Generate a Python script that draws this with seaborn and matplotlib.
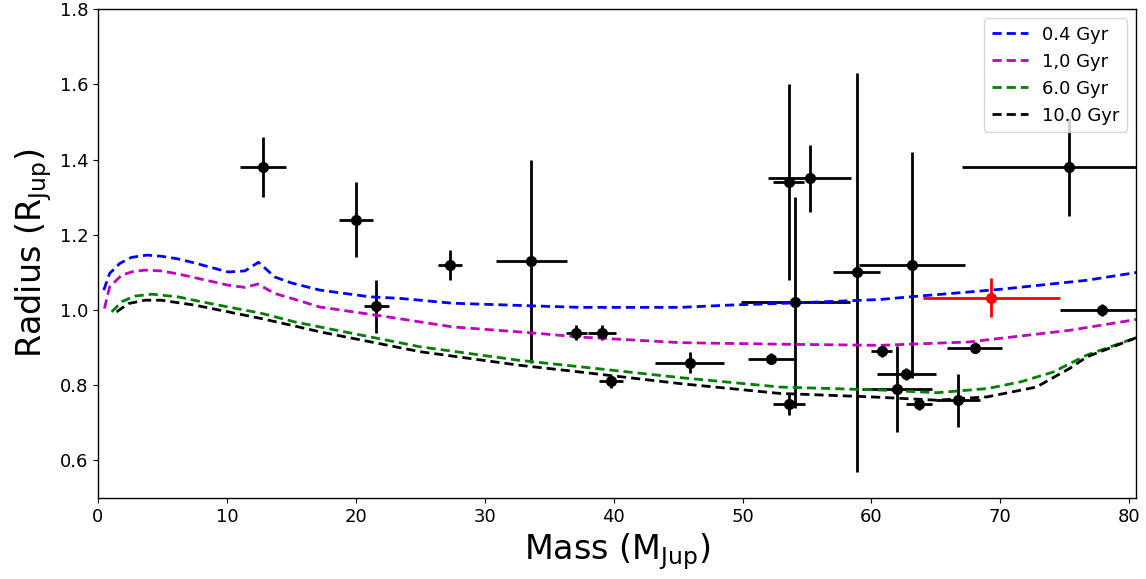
import numpy as np
import pandas as pd
import matplotlib
matplotlib.use("Agg")
import matplotlib.pyplot as plt
import seaborn as sns

# ---- isochrone curves (mass in M_Jup, radius in R_Jup) ----
m_04 = [0.45, 0.9, 1.7, 2.6, 3.8, 4.9, 6.2, 7.5, 8.8, 10.1, 11.4, 12.45, 13.0, 13.7, 15.0,
        17.2, 21.1, 23.4, 27.5, 33.7, 37.4, 45.2, 49.0, 55.0, 60.7, 63.0, 67.6, 70.0, 76.7, 80.6]
r_04 = [1.053, 1.097, 1.124, 1.140, 1.146, 1.143, 1.136, 1.125, 1.113, 1.101, 1.104, 1.127, 1.110,
        1.088, 1.072, 1.053, 1.035, 1.031, 1.018, 1.011, 1.007, 1.007, 1.013, 1.020, 1.028, 1.035,
        1.048, 1.055, 1.079, 1.100]

m_10 = [0.5, 0.9, 1.84, 2.7, 3.65, 4.9, 6.2, 7.5, 8.8, 10.1, 11.4, 12.4, 13.7, 15.3, 17.2,
        22.4, 27.5, 33.7, 37.4, 45.2, 52.9, 60.7, 67.6, 75.4, 80.6]
r_10 = [1.004, 1.061, 1.093, 1.102, 1.106, 1.104, 1.096, 1.086, 1.076, 1.066, 1.060, 1.069, 1.044,
        1.028, 1.008, 0.982, 0.955, 0.939, 0.928, 0.913, 0.909, 0.906, 0.915, 0.946, 0.975]

m_60 = [1.06, 1.84, 2.87, 4.2, 6.2, 8.0, 10.1, 12.7, 15.3, 17.2, 25.0, 32.7, 37.4, 45.2, 52.9,
        60.7, 65.1, 69.0, 71.6, 74.1, 76.7, 80.6]
r_60 = [0.995, 1.022, 1.037, 1.042, 1.035, 1.022, 1.008, 0.991, 0.968, 0.955, 0.902, 0.866, 0.849,
        0.820, 0.795, 0.787, 0.780, 0.791, 0.809, 0.835, 0.880, 0.927]

m_100 = [1.45, 2.35, 3.65, 4.9, 7.5, 10.1, 12.7, 15.3, 17.2, 25.0, 32.7, 37.4, 45.2, 52.9, 59.9,
         65.1, 69.0, 72.8, 75.4, 76.7, 80.6]
r_100 = [0.995, 1.017, 1.026, 1.026, 1.013, 0.995, 0.977, 0.957, 0.942, 0.889, 0.853, 0.835, 0.804,
         0.778, 0.769, 0.760, 0.769, 0.795, 0.845, 0.875, 0.927]

curve_labels = ["0.4 Gyr", "1,0 Gyr", "6.0 Gyr", "10.0 Gyr"]
curve_colors = ["#0000ff", "#bf00bf", "#008000", "#000000"]

# ---- measured brown dwarfs ----
bd_mass = [12.8, 20.0, 21.6, 27.3, 33.6, 37.1, 39.1, 39.8, 45.9, 52.2, 53.6, 53.6, 55.2, 54.1,
           58.85, 63.15, 62.7, 62.0, 60.8, 63.7, 66.7, 68.0, 75.3, 77.9]
bd_mass_err = [1.75, 1.3, 1.0, 0.9, 2.75, 0.8, 1.1, 0.9, 2.7, 1.8, 1.25, 1.2, 3.2, 4.25,
               1.8, 4.1, 2.3, 2.7, 0.8, 1.0, 1.7, 2.1, 8.3, 3.3]
bd_rad = [1.38, 1.24, 1.01, 1.12, 1.13, 0.94, 0.94, 0.81, 0.86, 0.87, 0.75, 1.34, 1.35, 1.02,
          1.10, 1.12, 0.83, 0.79, 0.89, 0.75, 0.76, 0.90, 1.38, 1.00]
bd_rad_err = [0.08, 0.10, 0.07, 0.04, 0.27, 0.02, 0.02, 0.017, 0.028, 0.015, 0.03, 0.26, 0.09, 0.28,
              0.53, 0.30, 0.015, 0.115, 0.015, 0.015, 0.07, 0.015, 0.13, 0.015]

# ---- highlighted object ----
new_mass = [69.3]
new_mass_err = [5.3]
new_rad = [1.033]
new_rad_err = [0.052]

sns.set_theme(style="ticks", rc={
    "axes.edgecolor": "black", "axes.linewidth": 1.0,
    "xtick.color": "black", "ytick.color": "black",
    "text.color": "black", "axes.labelcolor": "black",
    "xtick.major.size": 3.5, "ytick.major.size": 3.5,
    "xtick.major.width": 0.8, "ytick.major.width": 0.8,
    "xtick.direction": "out", "ytick.direction": "out",
})
plt.rcParams["font.family"] = ["DejaVu Sans"]

fig, ax = plt.subplots(figsize=(11.46, 5.79), dpi=100)
fig.subplots_adjust(left=0.0855, right=0.991, top=0.984, bottom=0.14)

ax.errorbar(bd_mass, bd_rad, xerr=bd_mass_err, yerr=bd_rad_err, fmt="o", color="black",
            ms=7, lw=2, capsize=0)
ax.errorbar(new_mass, new_rad, xerr=new_mass_err, yerr=new_rad_err, fmt="o", color="red",
            ms=7, lw=2, capsize=0)

for mx, ry, lab, col in zip([m_04, m_10, m_60, m_100], [r_04, r_10, r_60, r_100],
                            curve_labels, curve_colors):
    df = pd.DataFrame({"mass": mx, "radius": ry})
    sns.lineplot(data=df, x="mass", y="radius", color=col, lw=2,
                 label=lab, sort=False, estimator=None, ax=ax)
    ax.lines[-1].set_linestyle((0, (3.3, 1.8)))

ax.set_xlim(0, 80.5)
ax.set_ylim(0.5, 1.8)
ax.set_xticks(np.arange(0, 81, 10))
ax.set_yticks([0.6, 0.8, 1.0, 1.2, 1.4, 1.6, 1.8])
ax.tick_params(labelsize=13)
ax.set_xlabel(r"Mass (M$_{\rm Jup}$)", fontsize=24)
ax.set_ylabel(r"Radius (R$_{\rm Jup}$)", fontsize=24)
ax.grid(False)

leg = ax.legend(loc="upper right", fontsize=13, frameon=True, fancybox=True,
                framealpha=0.8, edgecolor="0.8")

fig.savefig("out.png", dpi=100)
